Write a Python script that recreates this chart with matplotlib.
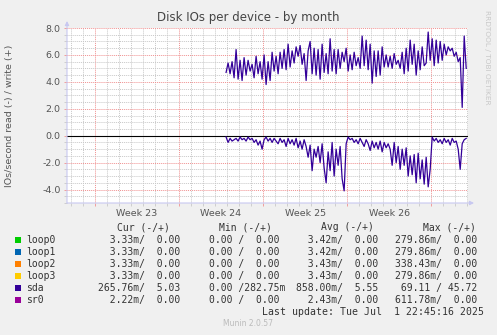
import numpy as np
import matplotlib
matplotlib.use('Agg')
import matplotlib.pyplot as plt
from matplotlib.patches import Rectangle
from matplotlib.ticker import FixedLocator, MultipleLocator

# time axis in days from the left edge of the graph (munin month = 33 days)
span_days = 33.4
first_week = 2.33
week_labels = ['Week 23', 'Week 24', 'Week 25', 'Week 26']
data_start = 13.25
step = 1 / 6  # 4 hour samples

# sda write (+) and read (-) IOs/second
sda_write = [4.7, 5.4, 4.6, 5.5, 4.3, 6.4, 4.2, 5.6, 4.1, 5.8,
             4.5, 5.6, 4.8, 5.3, 4.3, 5.9, 4.6, 5.5, 4.2, 6.0,
             3.8, 5.5, 4.1, 6.2, 4.8, 5.9, 4.6, 6.2, 5.0, 6.4,
             4.9, 6.8, 5.1, 6.3, 5.4, 6.6, 5.9, 6.7, 5.3, 6.1,
             4.1, 6.3, 7.0, 4.6, 6.5, 4.5, 6.4, 4.2, 6.8, 4.7,
             6.1, 4.6, 7.2, 4.8, 6.4, 4.6, 6.4, 5.0, 6.2, 5.5,
             6.5, 4.8, 6.0, 4.9, 6.2, 5.2, 5.8, 5.0, 7.4, 5.2,
             7.1, 4.9, 6.8, 3.9, 6.3, 4.4, 6.3, 4.5, 6.6, 5.1,
             6.0, 5.1, 5.9, 5.0, 6.1, 5.3, 5.6, 5.0, 6.2, 4.6,
             6.5, 4.8, 7.1, 5.3, 6.8, 4.5, 6.3, 4.9, 6.6, 5.2,
             5.4, 7.7, 5.6, 7.2, 5.2, 7.1, 5.4, 7.0, 5.6, 6.8,
             6.0, 6.6, 6.3, 6.5, 5.9, 6.2, 5.5, 5.8, 2.1, 7.4,
             5.0]
sda_read = [-0.1, -0.5, -0.2, -0.4, -0.3, -0.2, -0.4, -0.1, -0.3, -0.2,
            -0.4, -0.1, -0.3, -0.2, -0.5, -0.3, -0.7, -0.4, -1.0, -0.3,
            -0.1, -0.4, -0.2, -0.5, -0.2, -0.4, -0.6, -0.2, -0.5, -0.3,
            -0.8, -0.2, -0.6, -0.3, -0.7, -0.2, -0.9, -0.4, -1.0, -0.3,
            -0.8, -1.6, -0.7, -2.6, -1.0, -1.6, -0.8, -2.0, -0.6, -2.4,
            -3.5, -1.2, -2.6, -0.5, -3.0, -1.0, -2.2, -0.8, -3.2, -4.1,
            -0.6, -0.1, -0.3, -0.2, -0.5, -0.3, -0.6, -0.2, -0.5, -0.8,
            -0.3, -0.6, -1.1, -0.4, -0.9, -0.5, -1.0, -0.4, -1.2, -0.5,
            -0.9, -0.6, -1.0, -2.2, -0.5, -2.0, -0.8, -2.5, -1.0, -2.2,
            -0.9, -3.0, -1.5, -2.9, -1.4, -3.5, -1.3, -3.2, -1.8, -3.6,
            -1.6, -3.8, -2.5, -0.1, -0.4, -0.2, -0.5, -0.3, -0.6, -0.2,
            -0.5, -0.3, -0.7, -0.2, -0.5, -0.4, -1.0, -2.5, -0.6, -0.3,
            -0.2]

# legend table
names = ['loop0', 'loop1', 'loop2', 'loop3', 'sda', 'sr0']
colors = ['#00CC00', '#0066B3', '#FF8000', '#FFCC00', '#330099', '#990099']
cur = ['  3.33m/  0.00', '  3.33m/  0.00', '  3.33m/  0.00', '  3.33m/  0.00',
       '265.76m/  5.03', '  2.22m/  0.00']
mins = ['0.00 /  0.00', '0.00 /  0.00', '0.00 /  0.00', '0.00 /  0.00',
        '0.00 /282.75m', '0.00 /  0.00']
avg = ['  3.42m/  0.00', '  3.42m/  0.00', '  3.43m/  0.00', '  3.43m/  0.00',
       '858.00m/  5.55', '  2.43m/  0.00']
maxs = ['279.86m/  0.00', '279.86m/  0.00', '338.43m/  0.00', '279.86m/  0.00',
        ' 69.11 / 45.72', '611.78m/  0.00']

W, H = 497, 335
fig = plt.figure(figsize=(W / 100, H / 100), dpi=100, facecolor='#F0F0F0')
ax = fig.add_axes([67 / W, 1 - 203 / H, 401 / W, 175 / H])
ax.set_facecolor('white')

t = data_start + step * np.arange(len(sda_write))
ax.axhline(0, color='black', lw=0.8, zorder=3)
ax.plot(t, sda_write, color='#330099', lw=0.9, zorder=4)
ax.plot(t, sda_read, color='#330099', lw=0.9, zorder=4)

ax.set_xlim(0, span_days)
ax.set_ylim(-5, 8)

weeks = first_week + 7 * np.arange(5)
days = first_week + np.arange(-2, 32)
ax.xaxis.set_major_locator(FixedLocator(weeks))
ax.xaxis.set_minor_locator(FixedLocator([d for d in days if 0 < d < span_days]))
ax.yaxis.set_major_locator(MultipleLocator(2))
ax.yaxis.set_minor_locator(MultipleLocator(0.5))
ax.grid(which='minor', color='#C8C8C8', ls=(0, (1, 1)), lw=0.7)
ax.grid(which='major', color='#F09090', ls=(0, (1, 1)), lw=0.7)
ax.set_axisbelow(True)

ax.set_xticklabels([])
ax.yaxis.set_major_formatter(plt.FuncFormatter(lambda v, p: '%.1f' % v))
ax.tick_params(which='both', length=2.5, width=0.6, direction='out',
               labelsize=6.8, labelcolor='#555555', pad=2)
ax.tick_params(which='major', color='#F09090')
ax.tick_params(which='minor', color='#C8C8C8')
for i, lab in enumerate(week_labels):
    ax.text(weeks[i] + 3.5, -0.035, lab, transform=ax.get_xaxis_transform(),
            ha='center', va='top', fontsize=6.8, color='#555555')

for s in ax.spines.values():
    s.set_visible(False)
# rrdtool style axes with arrows
ax.annotate('', xy=(0, 1.04), xytext=(0, 0), xycoords='axes fraction',
            arrowprops=dict(arrowstyle='-|>', color='#C8C8F0', lw=0.8,
                            mutation_scale=6, shrinkA=0, shrinkB=0))
ax.annotate('', xy=(1.015, 0), xytext=(0, 0), xycoords='axes fraction',
            arrowprops=dict(arrowstyle='-|>', color='#C8C8F0', lw=0.8,
                            mutation_scale=6, shrinkA=0, shrinkB=0))

fig.text(248 / W, 1 - 18 / H, 'Disk IOs per device - by month', ha='center',
         va='center', fontsize=8.5, color='#444444')
fig.text(10 / W, 1 - 116 / H, 'IOs/second read (-) / write (+)', rotation=90,
         ha='center', va='center', fontsize=6.8, color='#555555')
fig.text(487 / W, 1 - 57 / H, 'RRDTOOL / TOBI OETIKER', rotation=270,
         ha='center', va='center', fontsize=5.3, color='#C8C8C8')

mono = 'DejaVu Sans Mono'
fs = 7.0
tc = '#333333'
heads = [('Cur (-/+)', 116.7), ('Min (-/+)', 219), ('Avg (-/+)', 321), ('Max (-/+)', 422.7)]
for lab, x in heads:
    fig.text(x / W, 1 - 227 / H, lab, family=mono, fontsize=fs, color=tc, va='center')
for i in range(len(names)):
    y = 240 + 12 * i
    fig.add_artist(Rectangle((14.5 / W, 1 - (y + 3) / H), 6 / W, 6 / H,
                             transform=fig.transFigure, color=colors[i], lw=0))
    fig.text(26.3 / W, 1 - y / H, names[i], family=mono, fontsize=fs, color=tc, va='center')
    fig.text(98.3 / W, 1 - y / H, cur[i], family=mono, fontsize=fs, color=tc, va='center')
    fig.text(209.3 / W, 1 - y / H, mins[i], family=mono, fontsize=fs, color=tc, va='center')
    fig.text(296 / W, 1 - y / H, avg[i], family=mono, fontsize=fs, color=tc, va='center')
    fig.text(395 / W, 1 - y / H, maxs[i], family=mono, fontsize=fs, color=tc, va='center')
fig.text(262 / W, 1 - 312 / H, 'Last update: Tue Jul  1 22:45:16 2025', family=mono,
         fontsize=7.15, color=tc, va='center')
fig.text(248 / W, 1 - 324 / H, 'Munin 2.0.57', ha='center', va='center',
         fontsize=5.5, color='#BBBBBB')

fig.savefig('out.png', dpi=100, facecolor=fig.get_facecolor())
